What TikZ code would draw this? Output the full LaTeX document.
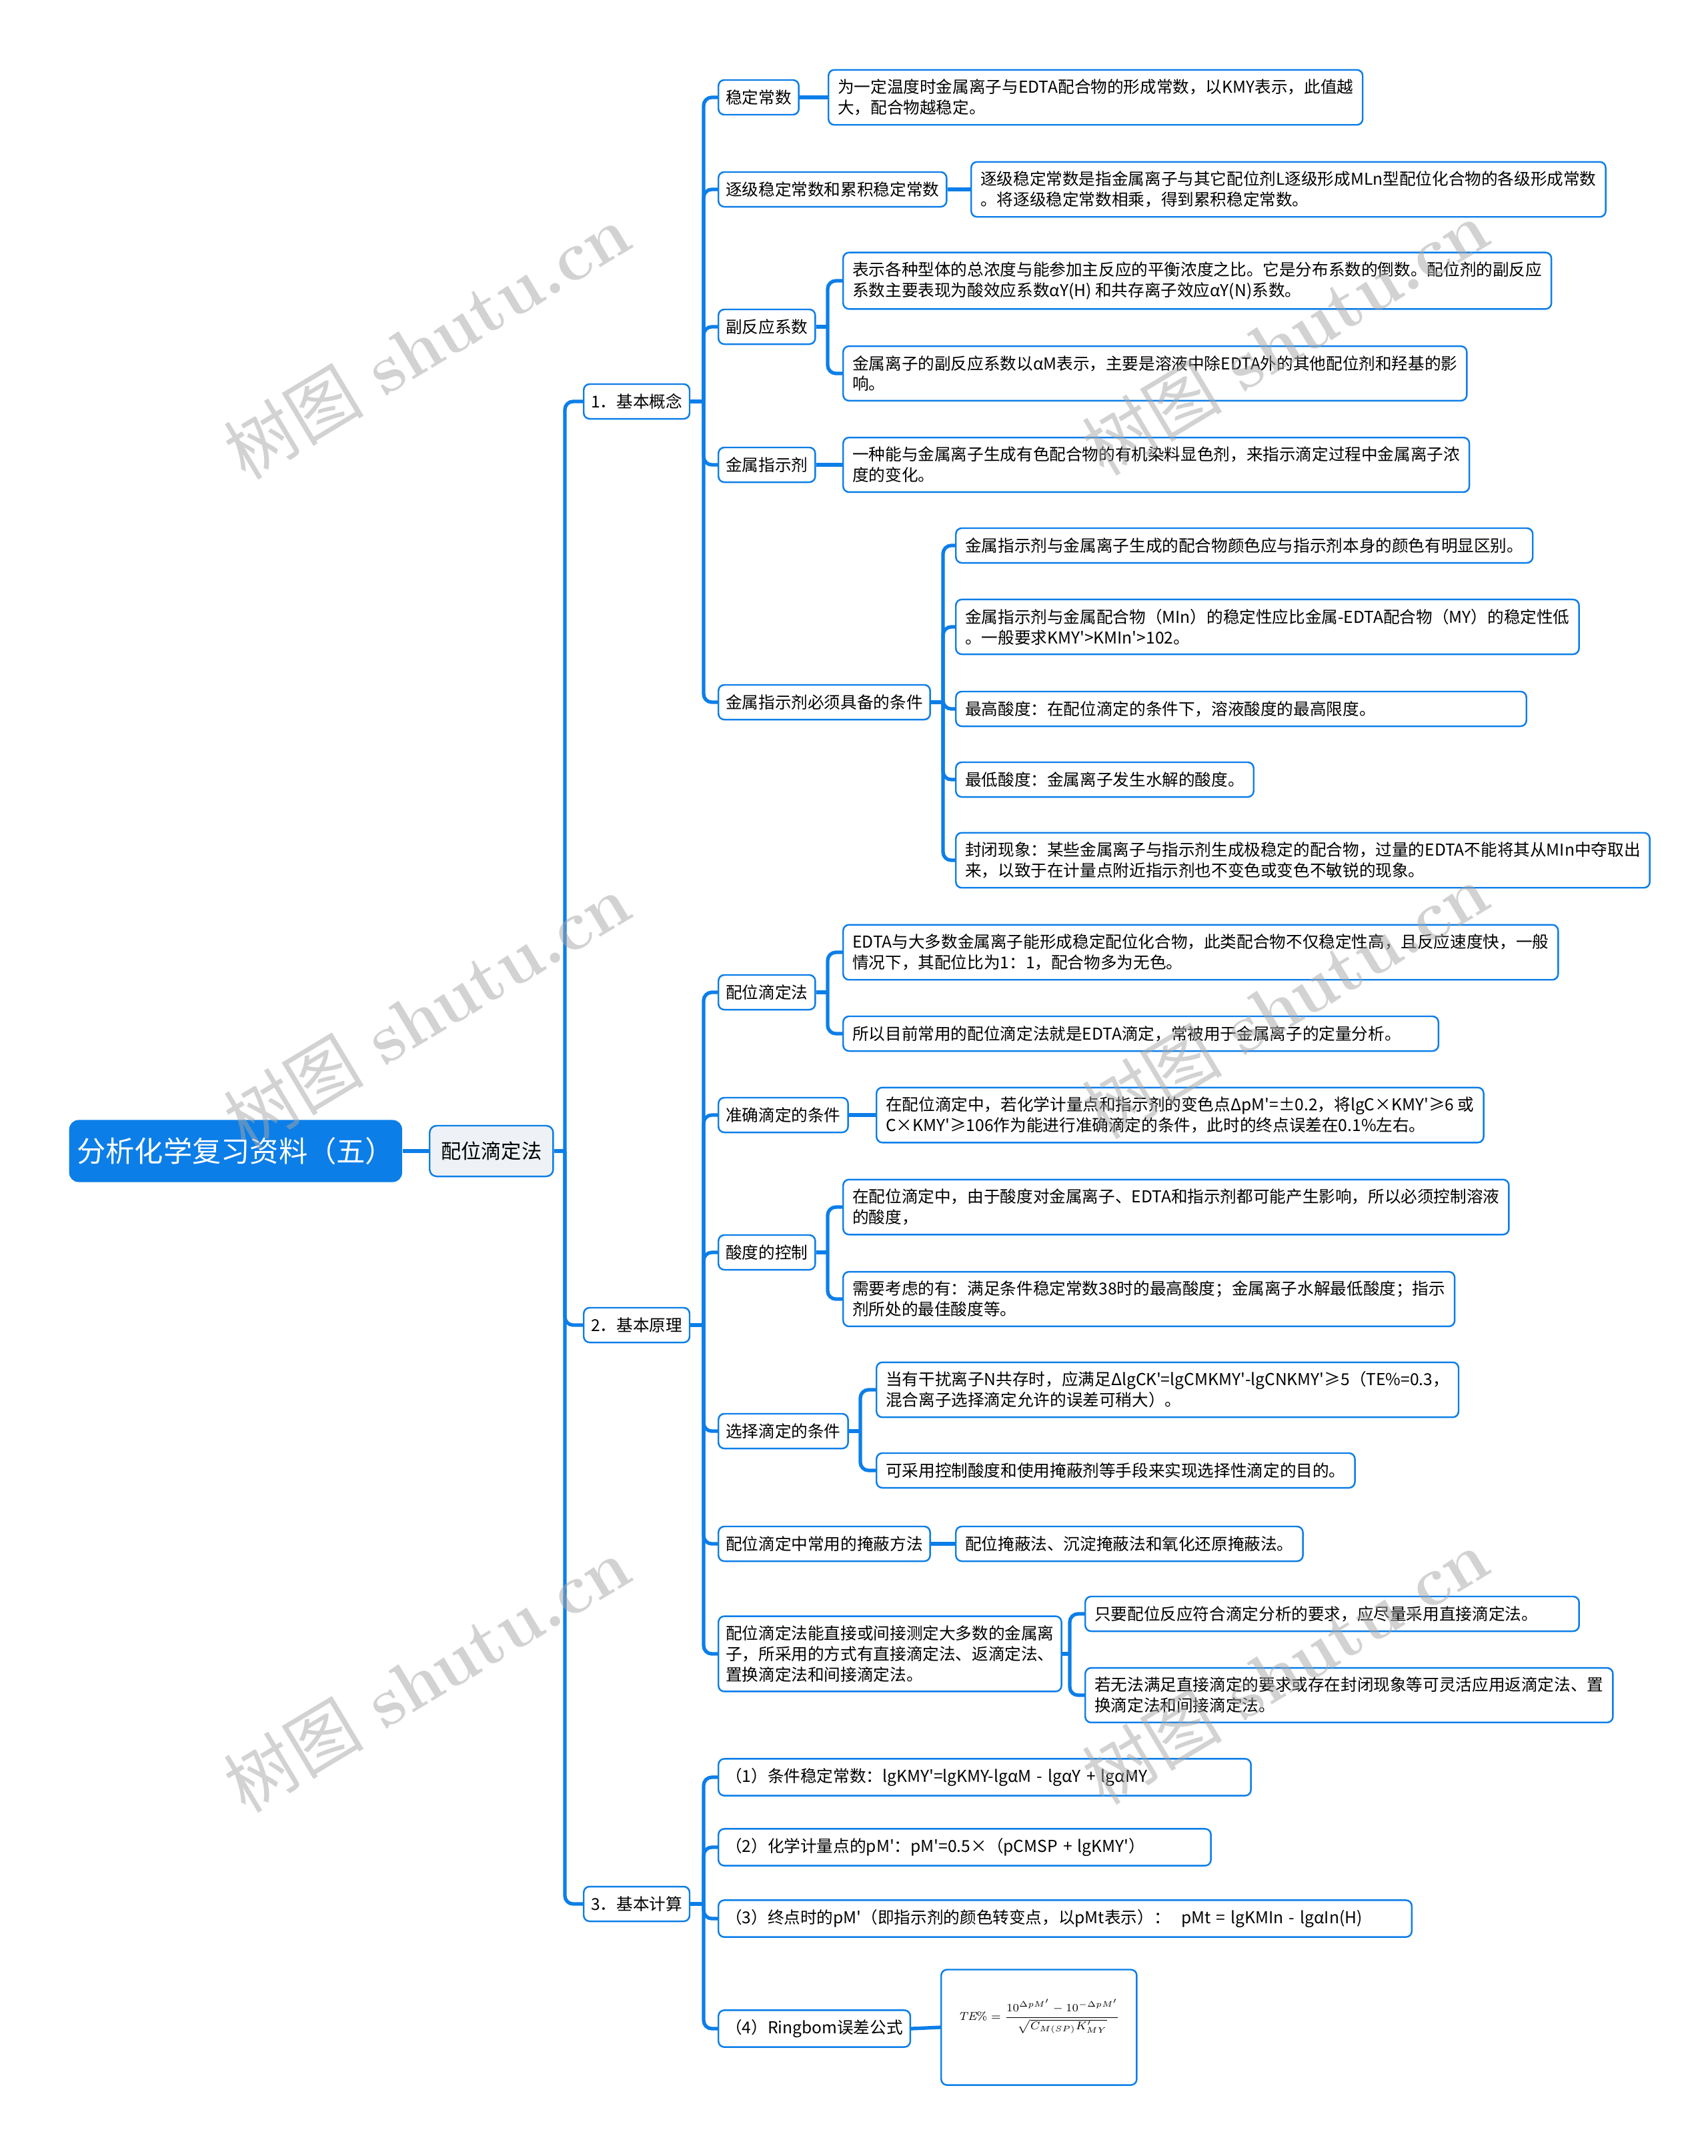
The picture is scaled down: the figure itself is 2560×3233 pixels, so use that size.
\documentclass[tikz,border=0pt]{standalone}
\usepackage{amsmath}
\usepackage{fontspec}
\newfontfamily\cjk{Noto Sans CJK SC}
\usetikzlibrary{calc}
\definecolor{mmblue}{HTML}{0C7EE8}
\definecolor{hubfill}{HTML}{EEF2F6}
\tikzset{
  mmroot/.style={rectangle, rounded corners=4pt, fill=mmblue, text=white,
    font=\cjk\fontsize{12.3}{15}\selectfont, minimum width=4.95cm, minimum height=0.93cm, anchor=west},
  mmhub/.style={rectangle, rounded corners=3pt, draw=mmblue, line width=0.7pt, fill=hubfill,
    font=\cjk\fontsize{8.6}{10}\selectfont, inner xsep=0.17cm, minimum height=0.76cm, anchor=west},
  topic/.style={rectangle, rounded corners=2.5pt, draw=mmblue, line width=0.7pt, fill=white,
    font=\cjk\fontsize{7}{8.8}\selectfont, align=left, inner xsep=0.11cm, inner ysep=0.14cm,
    minimum height=0.52cm, anchor=west},
  note/.style={topic, inner xsep=0.14cm},
  wide/.style={text width=#1},
  formula/.style={topic, align=center, minimum width=2.93cm, minimum height=1.73cm,
    font=\fontsize{7.2}{9}\selectfont},
  link/.style={draw=mmblue, line width=1.5pt, rounded corners=3.5pt},
  wmark/.style={text=black!35, opacity=0.5, rotate=31, font=\fontsize{30}{34}\selectfont},
}

\begin{document}
\begin{tikzpicture}[x=0.01cm, y=-0.01cm]
  \useasboundingbox (0,0) rectangle (2560,3233);
  % root and hub
  \node[mmroot] (root) at (103,1726) {分析化学复习资料（五）};
  \node[mmhub] (hub) at (643,1726) {配位滴定法};
  \node[topic] (c1) at (874,602) {1．基本概念};
  \node[topic] (c2) at (874,1987) {2．基本原理};
  \node[topic] (c3) at (874,2855) {3．基本计算};

  % 1. basic concepts
  \node[topic] (a1) at (1076,146) {稳定常数};
  \node[note] (a1n) at (1241,146) {为一定温度时金属离子与EDTA配合物的形成常数，以KMY表示，此值越\\大，配合物越稳定。};
  \node[topic] (a2) at (1076,284) {逐级稳定常数和累积稳定常数};
  \node[note] (a2n) at (1455,284) {逐级稳定常数是指金属离子与其它配位剂L逐级形成MLn型配位化合物的各级形成常数\\。将逐级稳定常数相乘，得到累积稳定常数。};
  \node[topic] (a3) at (1076,490) {副反应系数};
  \node[note] (a3n1) at (1263,421) {表示各种型体的总浓度与能参加主反应的平衡浓度之比。它是分布系数的倒数。配位剂的副反应\\系数主要表现为酸效应系数αY(H) 和共存离子效应αY(N)系数。};
  \node[note] (a3n2) at (1263,560) {金属离子的副反应系数以αM表示，主要是溶液中除EDTA外的其他配位剂和羟基的影\\响。};
  \node[topic] (a4) at (1076,697) {金属指示剂};
  \node[note] (a4n) at (1263,697) {一种能与金属离子生成有色配合物的有机染料显色剂，来指示滴定过程中金属离子浓\\度的变化。};
  \node[topic] (a5) at (1076,1053) {金属指示剂必须具备的条件};
  \node[note] (a5n1) at (1432,818) {金属指示剂与金属离子生成的配合物颜色应与指示剂本身的颜色有明显区别。};
  \node[note] (a5n2) at (1432,940) {金属指示剂与金属配合物（MIn）的稳定性应比金属-EDTA配合物（MY）的稳定性低\\。一般要求KMY'>KMIn'>102。};
  \node[note, wide=8.27cm] (a5n3) at (1432,1063) {最高酸度：在配位滴定的条件下，溶液酸度的最高限度。};
  \node[note] (a5n4) at (1432,1169) {最低酸度：金属离子发生水解的酸度。};
  \node[note] (a5n5) at (1432,1290) {封闭现象：某些金属离子与指示剂生成极稳定的配合物，过量的EDTA不能将其从MIn中夺取出\\来，以致于在计量点附近指示剂也不变色或变色不敏锐的现象。};

  % 2. basic principles
  \node[topic] (b1) at (1076,1488) {配位滴定法};
  \node[note] (b1n1) at (1263,1428) {EDTA与大多数金属离子能形成稳定配位化合物，此类配合物不仅稳定性高，且反应速度快，一般\\情况下，其配位比为1：1，配合物多为无色。};
  \node[note, wide=8.64cm] (b1n2) at (1263,1550) {所以目前常用的配位滴定法就是EDTA滴定，常被用于金属离子的定量分析。};
  \node[topic] (b2) at (1076,1672) {准确滴定的条件};
  \node[note] (b2n) at (1313,1672) {在配位滴定中，若化学计量点和指示剂的变色点ΔpM'=±0.2，将lgC×KMY'≥6 或\\C×KMY'≥106作为能进行准确滴定的条件，此时的终点误差在0.1\%左右。};
  \node[topic] (b3) at (1076,1878) {酸度的控制};
  \node[note] (b3n1) at (1263,1810) {在配位滴定中，由于酸度对金属离子、EDTA和指示剂都可能产生影响，所以必须控制溶液\\的酸度，};
  \node[note] (b3n2) at (1263,1948) {需要考虑的有：满足条件稳定常数38时的最高酸度；金属离子水解最低酸度；指示\\剂所处的最佳酸度等。};
  \node[topic] (b4) at (1076,2146) {选择滴定的条件};
  \node[note] (b4n1) at (1313,2084) {当有干扰离子N共存时，应满足ΔlgCK'=lgCMKMY'-lgCNKMY'≥5（TE\%=0.3，\\混合离子选择滴定允许的误差可稍大）。};
  \node[note] (b4n2) at (1313,2205) {可采用控制酸度和使用掩蔽剂等手段来实现选择性滴定的目的。};
  \node[topic] (b5) at (1076,2315) {配位滴定中常用的掩蔽方法};
  \node[note] (b5n) at (1432,2315) {配位掩蔽法、沉淀掩蔽法和氧化还原掩蔽法。};
  \node[topic] (b6) at (1076,2480) {配位滴定法能直接或间接测定大多数的金属离\\子，所采用的方式有直接滴定法、返滴定法、\\置换滴定法和间接滴定法。};
  \node[note, wide=7.12cm] (b6n1) at (1626,2420) {只要配位反应符合滴定分析的要求，应尽量采用直接滴定法。};
  \node[note] (b6n2) at (1626,2542) {若无法满足直接滴定的要求或存在封闭现象等可灵活应用返滴定法、置\\换滴定法和间接滴定法。};

  % 3. basic calculations
  \node[topic, wide=7.76cm] (d1) at (1076,2665) {（1）条件稳定常数：lgKMY'=lgKMY-lgαM - lgαY + lgαMY};
  \node[topic, wide=7.16cm] (d2) at (1076,2770) {（2）化学计量点的pM'：pM'=0.5×（pCMSP + lgKMY'）};
  \node[topic, wide=10.17cm] (d3) at (1076,2877) {（3）终点时的pM'（即指示剂的颜色转变点，以pMt表示）：~ pMt = lgKMIn - lgαIn(H)};
  \node[topic] (d4) at (1076,3042) {（4）Ringbom误差公式};
  \node[formula] (d4n) at (1410,3040)
    {\scalebox{0.68}{$\displaystyle \mathit{TE}\% = \frac{10^{\Delta pM'}-10^{-\Delta pM'}}{\sqrt{C_{M(SP)}K'_{MY}}}$}\\[6pt]};

  % connectors
  \coordinate (t0) at (847,1726);
  \coordinate (t1) at (1055,602);
  \coordinate (t2) at (1055,1987);
  \coordinate (t3) at (1055,2855);
  \coordinate (ta3) at (1241,490);
  \coordinate (ta5) at (1414,1053);
  \coordinate (tb1) at (1241,1488);
  \coordinate (tb3) at (1241,1878);
  \coordinate (tb4) at (1290,2146);
  \coordinate (tb6) at (1604,2480);
  \draw[link] (root.east) -- (hub.west);
  \draw[link] (hub.east) -- (t0);
  \foreach \k in {c1,c2,c3} \draw[link] (t0) |- (\k.west);
  \draw[link] (c1.east) -- (t1);
  \foreach \k in {a1,a2,a3,a4,a5} \draw[link] (t1) |- (\k.west);
  \draw[link] (c2.east) -- (t2);
  \foreach \k in {b1,b2,b3,b4,b5,b6} \draw[link] (t2) |- (\k.west);
  \draw[link] (c3.east) -- (t3);
  \foreach \k in {d1,d2,d3,d4} \draw[link] (t3) |- (\k.west);
  \foreach \k in {a1,a2,a4,b2,b5,d4} \draw[link] (\k.east) -- (\k n.west);
  \draw[link] (a3.east) -- (ta3);
  \foreach \k in {a3n1,a3n2} \draw[link] (ta3) |- (\k.west);
  \draw[link] (a5.east) -- (ta5);
  \foreach \k in {a5n1,a5n2,a5n3,a5n4,a5n5} \draw[link] (ta5) |- (\k.west);
  \draw[link] (b1.east) -- (tb1);
  \foreach \k in {b1n1,b1n2} \draw[link] (tb1) |- (\k.west);
  \draw[link] (b3.east) -- (tb3);
  \foreach \k in {b3n1,b3n2} \draw[link] (tb3) |- (\k.west);
  \draw[link] (b4.east) -- (tb4);
  \foreach \k in {b4n1,b4n2} \draw[link] (tb4) |- (\k.west);
  \draw[link] (b6.east) -- (tb6);
  \foreach \k in {b6n1,b6n2} \draw[link] (tb6) |- (\k.west);

  % watermark
  \foreach \wx/\wy [count=\i] in {640/511, 640/1515, 640/2510, 1927/505, 1927/1500, 1927/2498}
    \node[wmark] (wm\i) at (\wx,\wy) {{\cjk 树图} \textbf{shutu.cn}};
\end{tikzpicture}
\end{document}
